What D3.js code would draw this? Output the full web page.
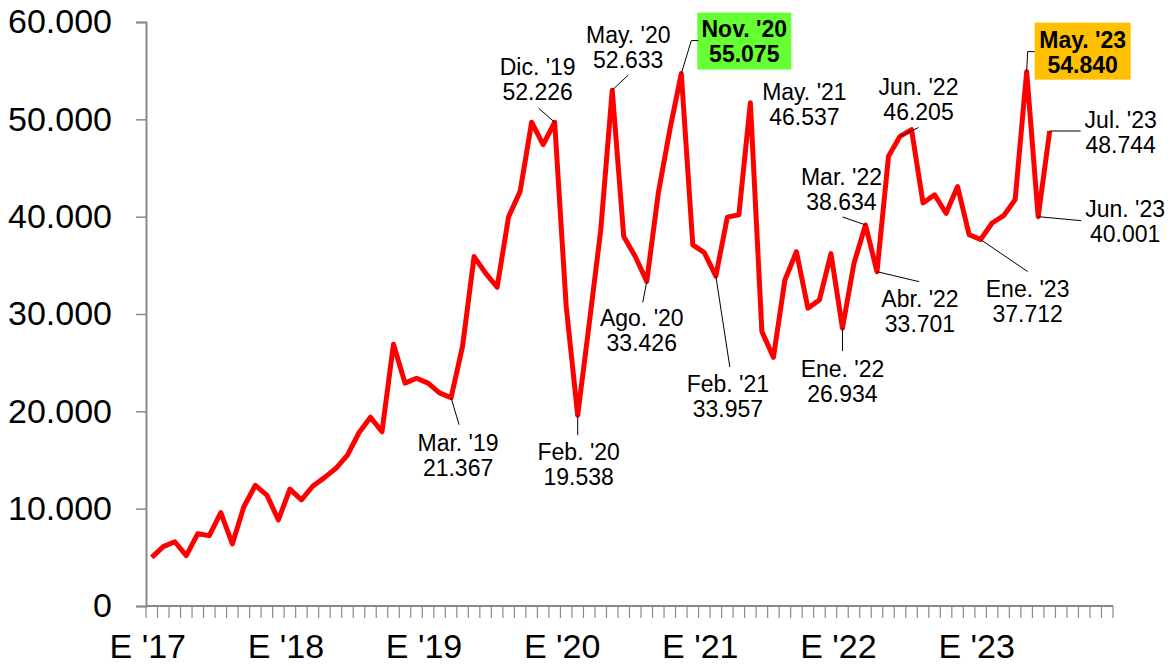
<!DOCTYPE html>
<html>
<head>
<meta charset="utf-8">
<script src="https://cdn.jsdelivr.net/npm/d3@7"></script>
<style>
  html, body { margin: 0; padding: 0; background: #ffffff; }
  svg { display: block; font-family: "Liberation Sans", Arial, sans-serif; }
</style>
</head>
<body>
<svg id="chart" width="1173" height="666"></svg>
<script>
// ---------- DATA ----------
const years = ["17", "18", "19", "20", "21", "22", "23"];
const monthNames = ["Ene", "Feb", "Mar", "Abr", "May", "Jun", "Jul", "Ago", "Sep", "Oct", "Nov", "Dic"];
const yTickValues = [0, 10000, 20000, 30000, 40000, 50000, 60000];
const xTickLabels = ["E '17", "E '18", "E '19", "E '20", "E '21", "E '22", "E '23"];

// monthly values Jan 2017 .. Jul 2023
const values = [
  5000, 6100, 6600, 5170, 7430, 7230, 9590, 6370, 10200, 12400, 11400, 8840,
  12000, 10900, 12330, 13190, 14150, 15500, 17800, 19400, 17900, 26900, 22900, 23400,
  22900, 21900, 21400, 26700, 35900, 34200, 32750, 40000, 42600, 49700, 47400, 49700,
  30800, 19600, 29000, 38600, 53000, 37950, 35900, 33350, 42400, 48900, 54700, 37100,
  36300, 33900, 39950, 40200, 51700, 28200, 25550, 33500, 36400, 30600, 31450, 36200,
  28550, 35200, 39150, 34350, 46200, 48250, 48950, 41400, 42250, 40350, 43100, 38150,
  37650, 39350, 40100, 41750, 54900, 40000, 48800
];

// annotations
const annIndex = [26, 35, 40, 46, 37, 43, 49, 52, 66, 62, 60, 63, 72, 76, 78, 77];
const annMonth = ["Mar. '19", "Dic. '19", "May. '20", "Nov. '20", "Feb. '20", "Ago. '20", "Feb. '21", "May. '21",
                  "Jun. '22", "Mar. '22", "Ene. '22", "Abr. '22", "Ene. '23", "May. '23", "Jul. '23", "Jun. '23"];
const annValue = ["21.367", "52.226", "52.633", "55.075", "19.538", "33.426", "33.957", "46.537",
                  "46.205", "38.634", "26.934", "33.701", "37.712", "54.840", "48.744", "40.001"];

// ---------- LAYOUT (pixel offsets of labels relative to their point) ----------
// tx, ty: text centre / first baseline; lead: leader polyline points; box: highlight box
const annLayout = [
  { tx: 7,  ty: 53,  lead: [[8, 27]] },
  { tx: -17, ty: -47, lead: [[-16, -14]] },
  { tx: 16, ty: -47, lead: [[16, -15]] },
  { tx: 63, ty: -37, lead: [[10, -33], [17, -33]], box: [16, -61, 94, 57], fill: "#66ff33", bold: true },
  { tx: 1,  ty: 45,  lead: [[0, 20]] },
  { tx: -5, ty: 45,  lead: [[-4, 21]] },
  { tx: 12, ty: 116, lead: [[14, 91]] },
  { tx: 54, ty: -3,  lead: [] },
  { tx: 7,  ty: -35, lead: [[7, -2]], from: [-12, 7] },
  { tx: -24, ty: -40, lead: [[-23, -8]] },
  { tx: 0,  ty: 49,  lead: [[0, 23]] },
  { tx: 43, ty: 35,  lead: [[42, 10]] },
  { tx: 47, ty: 57,  lead: [[47, 32]] },
  { tx: 56, ty: -24, lead: [[1, -20], [8, -20]], box: [8, -49, 96, 57], fill: "#ffc000", bold: true },
  { tx: 71, ty: -3,  lead: [[31, 0]] },
  { tx: 87, ty: 0,   lead: [[43, 4]] }
];

// ---------- CHART ----------
const categories = [];
years.forEach(y => monthNames.forEach(m => categories.push(m + " '" + y)));

const svg = d3.select("#chart");
const axisColor = "#898989";

const x = d3.scaleBand().domain(categories).range([146, 1113]).paddingInner(0).paddingOuter(0);
const y = d3.scaleLinear().domain([0, 60000]).range([606, 22]);
const cx = i => x(categories[i]) + x.bandwidth() / 2;

const locale = d3.formatLocale({ decimal: ",", thousands: ".", grouping: [3], currency: ["", ""] });
const fmt = locale.format(",d");

// Y axis
const yAxis = d3.axisLeft(y).tickValues(yTickValues).tickFormat(fmt).tickSize(10).tickPadding(24);
const gy = svg.append("g").attr("transform", "translate(146,0)").call(yAxis);
gy.select(".domain").attr("stroke", axisColor).attr("stroke-width", 2);
gy.selectAll(".tick line").attr("stroke", axisColor).attr("stroke-width", 1.5);
gy.selectAll(".tick text").attr("fill", "#000").style("font-size", "34px")
  .style("font-family", "'Liberation Sans', Arial, sans-serif");

// X axis: line + boundary ticks
const gx = svg.append("g");
gx.append("line").attr("x1", x.range()[0]).attr("x2", x.range()[1])
  .attr("y1", y(0)).attr("y2", y(0)).attr("stroke", axisColor).attr("stroke-width", 2);
const boundaries = categories.map(c => x(c)).concat([x.range()[1]]);
gx.selectAll("line.b").data(boundaries).enter().append("line").attr("class", "b")
  .attr("x1", d => d).attr("x2", d => d).attr("y1", y(0)).attr("y2", y(0) + 12)
  .attr("stroke", axisColor).attr("stroke-width", 1.2);
gx.selectAll("text.xl").data(xTickLabels).enter().append("text").attr("class", "xl")
  .attr("x", (d, i) => cx(i * 12) - 4).attr("y", 658)
  .attr("text-anchor", "middle").style("font-size", "34px").attr("fill", "#000")
  .text(d => d);

// Line
const line = d3.line().x((d, i) => cx(i)).y(d => y(d));
svg.append("path").datum(values).attr("d", line)
  .attr("fill", "none").attr("stroke", "#ff0000").attr("stroke-width", 5)
  .attr("stroke-linejoin", "round");

// Annotations
const ga = svg.append("g");
annIndex.forEach((idx, k) => {
  const L = annLayout[k];
  const px = cx(idx), py = y(values[idx]);
  if (L.box) {
    ga.append("rect").attr("x", px + L.box[0]).attr("y", py + L.box[1])
      .attr("width", L.box[2]).attr("height", L.box[3]).attr("fill", L.fill);
  }
  if (L.lead.length) {
    const start = L.from ? [px + L.from[0], py + L.from[1]] : [px, py];
    const pts = [start].concat(L.lead.map(p => [px + p[0], py + p[1]]));
    ga.append("path").attr("d", d3.line()(pts)).attr("fill", "none")
      .attr("stroke", "#000").attr("stroke-width", 1);
  }
  const t = ga.append("text").attr("text-anchor", "middle")
    .style("font-size", "23px").style("font-weight", L.bold ? "bold" : "normal").attr("fill", "#000");
  t.append("tspan").attr("x", px + L.tx).attr("y", py + L.ty).text(annMonth[k]);
  t.append("tspan").attr("x", px + L.tx).attr("y", py + L.ty + 25).text(annValue[k]);
});
</script>
</body>
</html>
